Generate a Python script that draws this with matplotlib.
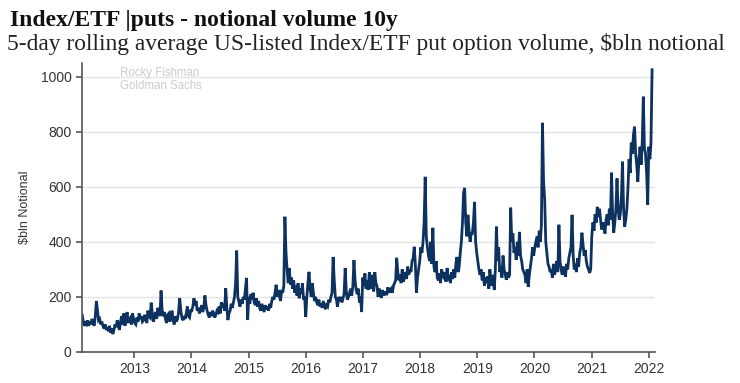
import matplotlib
matplotlib.use("Agg")
import matplotlib.pyplot as plt
import matplotlib.dates as mdates
import numpy as np
import pandas as pd

# weekly readings, $bln notional (5-day rolling avg)
v2012 = [135, 110, 95, 105, 100, 115, 95, 110, 100, 120, 105, 95,
         130, 185, 150, 115, 120, 100, 110, 95, 85, 100, 80, 90,
         75, 95, 70, 85, 65, 80, 100, 90, 115, 95, 80, 110,
         130, 100, 140, 95, 110, 145, 105, 120, 125, 100, 140, 120]
v2013 = [105, 100, 125, 110, 140, 120, 130, 110, 115, 135, 120, 105,
         150, 130, 125, 179, 140, 110, 130, 145, 120, 160, 150, 130,
         223, 150, 130, 145, 120, 105, 135, 140, 110, 125, 150, 115,
         100, 130, 110, 120, 145, 196, 150, 125, 115, 130, 120, 140,
         165, 130, 125, 150]
v2014 = [150, 165, 195, 170, 185, 150, 160, 140, 155, 170, 145, 160,
         205, 170, 150, 135, 125, 145, 130, 150, 140, 125, 135, 150,
         145, 165, 140, 180, 160, 175, 150, 232, 160, 116, 140, 150,
         175, 160, 180, 200, 250, 368, 200, 182, 165, 190, 175, 200,
         190, 230, 269, 116]
v2015 = [200, 175, 210, 190, 215, 180, 170, 195, 165, 185, 160, 150,
         175, 160, 145, 170, 155, 165, 150, 175, 160, 185, 200, 190,
         215, 244, 200, 225, 205, 185, 225, 215, 240, 491, 360, 300,
         250, 305, 245, 270, 230, 260, 215, 240, 205, 250, 195, 230,
         210, 250, 190, 200]
v2016 = [127, 200, 250, 291, 230, 200, 250, 215, 185, 200, 180, 170,
         190, 165, 175, 160, 185, 170, 155, 170, 165, 190, 180, 200,
         215, 345, 260, 200, 190, 164, 200, 185, 200, 180, 195, 210,
         305, 220, 190, 200, 215, 230, 205, 240, 334, 260, 225, 210,
         230, 180, 200, 145]
v2017 = [270, 240, 285, 230, 260, 225, 290, 245, 230, 280, 220, 290,
         250, 240, 200, 230, 215, 196, 225, 205, 220, 210, 210, 235,
         215, 225, 230, 215, 240, 250, 260, 342, 290, 260, 280, 250,
         300, 255, 270, 290, 265, 310, 280, 300, 290, 330, 340, 382,
         320, 215, 270, 300]
v2018 = [330, 380, 360, 400, 470, 636, 420, 380, 350, 330, 400, 320,
         451, 309, 290, 330, 270, 260, 285, 250, 300, 275, 270, 290,
         255, 305, 260, 280, 250, 290, 265, 300, 270, 320, 345, 290,
         310, 360, 400, 470, 578, 596, 470, 420, 498, 440, 400, 430,
         430, 470, 545, 400]
v2019 = [360, 330, 300, 280, 300, 260, 290, 240, 270, 250, 275, 230,
         300, 260, 240, 280, 225, 300, 455, 330, 380, 290, 310, 270,
         350, 300, 280, 262, 290, 270, 280, 524, 400, 430, 360, 380,
         335, 400, 350, 436, 350, 330, 300, 290, 280, 250, 300, 236,
         280, 309, 340, 380]
v2020 = [350, 380, 400, 420, 380, 440, 400, 460, 832, 618, 553, 400,
         360, 320, 309, 290, 300, 270, 320, 280, 300, 330, 290, 462,
         330, 300, 280, 310, 290, 273, 320, 300, 340, 360, 380, 498,
         350, 300, 320, 290, 340, 310, 360, 380, 433, 390, 350, 370,
         330, 310, 300, 287]
v2021 = [300, 420, 470, 440, 500, 470, 527, 490, 520, 480, 445, 460,
         470, 430, 480, 500, 460, 520, 480, 651, 500, 433, 470, 520,
         630, 520, 480, 500, 560, 691, 520, 455, 480, 520, 596, 700,
         650, 760, 720, 789, 818, 720, 680, 618, 700, 745, 680, 760,
         927, 740, 720, 650]
v2022 = [535, 745, 700, 760, 1025]

values = v2012 + v2013 + v2014 + v2015 + v2016 + v2017 + v2018 + v2019 + v2020 + v2021 + v2022
dates = pd.date_range("2012-02-03", periods=len(values), freq="7D")

fig = plt.figure(figsize=(7.4, 3.83), dpi=100)
ax = fig.add_axes([0.111, 0.081, 0.774, 0.755])

ax.plot(dates, values, color="#0d3260", lw=2.0, solid_joinstyle="miter")

ax.set_ylim(0, 1050)
ax.set_xlim(dates[0], pd.Timestamp("2022-02-08"))
ax.set_yticks([0, 200, 400, 600, 800, 1000])
ax.xaxis.set_major_locator(mdates.YearLocator())
ax.xaxis.set_major_formatter(mdates.DateFormatter("%Y"))
ax.grid(axis="y", color="#e3e3e3", lw=1)
ax.set_axisbelow(True)

for s in ["top", "right"]:
    ax.spines[s].set_visible(False)
for s in ["left", "bottom"]:
    ax.spines[s].set_color("#555555")
    ax.spines[s].set_linewidth(1.2)

ax.tick_params(axis="both", labelsize=10, colors="#555555", labelcolor="#333333",
               length=4, width=1.2)
for lab in ax.get_xticklabels() + ax.get_yticklabels():
    lab.set_family("Liberation Sans")
ax.set_ylabel("$bln Notional", fontsize=9, family="Liberation Sans", color="#333333", labelpad=7)

ax.text(0.066, 0.985, "Rocky Fishman\nGoldman Sachs", transform=ax.transAxes,
        fontsize=8.3, color="#cccccc", va="top", ha="left", family="Liberation Sans",
        linespacing=1.1)

fig.text(0.014, 0.932, "Index/ETF |puts - notional volume 10y", fontsize=17,
         fontweight="bold", family="Liberation Serif", color="#111111", va="baseline")
fig.text(0.010, 0.870, "5-day rolling average US-listed Index/ETF put option volume, $bln notional",
         fontsize=16.9, family="Liberation Serif", color="#222222", va="baseline")

fig.savefig("out.png", dpi=100)
